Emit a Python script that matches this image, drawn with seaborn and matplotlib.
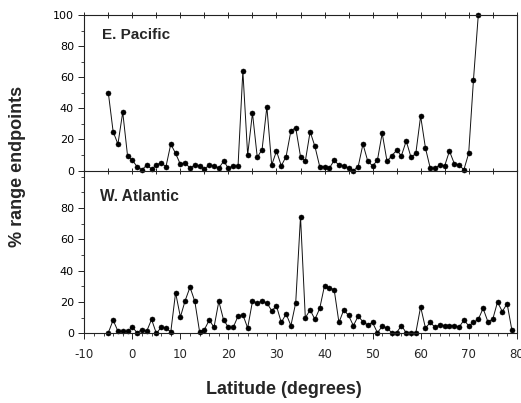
import matplotlib
matplotlib.use("Agg")
import matplotlib.pyplot as plt
from matplotlib.ticker import MultipleLocator
import numpy as np
import pandas as pd
import seaborn as sns

# latitude grid (1 degree steps) and % of range endpoints
lat_pacific = list(range(-5, 73))
pct_pacific = [50, 25, 17, 37.5, 9.5, 6.5, 2.5, 0.5, 3.5, 1,
               3.5, 5, 2.5, 17, 11, 4, 5, 1.5, 3.5, 3,
               1, 3.5, 3, 1.5, 6, 1.5, 3, 3, 64, 10,
               37, 8.5, 13.5, 41, 3.5, 12.5, 3, 9, 25.5, 27.5,
               9, 6, 25, 15.5, 2.5, 2.5, 1.5, 6.5, 3.5, 3,
               1.5, 0, 2.5, 17, 6, 3, 6.5, 24, 6, 9.5,
               13, 9.5, 19, 8.5, 11, 35, 14.5, 1.5, 1.5, 3.5,
               3, 12.5, 4.5, 3.5, 0.5, 11, 58.5, 100]

lat_atlantic = list(range(-5, 80))
pct_atlantic = [0.5, 8.5, 1.5, 1.5, 1.5, 4, 0.5, 2.5, 1.5, 9,
                0, 4, 3.5, 1, 26, 10.5, 21, 29.5, 20.5, 1,
                2.5, 8.5, 4, 20.5, 8.5, 4, 4, 11, 12, 3.5,
                20.5, 19.5, 20.5, 19.5, 14.5, 17.5, 7, 12.5, 5, 19.5,
                74.5, 10, 15, 9, 16, 30.5, 29, 28, 7, 15,
                11.5, 5, 11, 7.5, 5.5, 7, 0.5, 4.5, 3.5, 0.5,
                0.5, 5, 0.5, 0, 0.5, 17, 3.5, 7, 4, 5.5,
                5, 5, 5, 4, 8.5, 5, 7, 9, 16, 7.5,
                9, 20, 14, 19, 2]

panels = ["E. Pacific", "W. Atlantic"]

sns.set_style("ticks")
plt.rcParams["font.family"] = ["DejaVu Sans"]
plt.rcParams["axes.unicode_minus"] = False

fig = plt.figure(figsize=(5.21, 4.03), dpi=100)
ax1 = fig.add_axes([0.1618, 0.5769, 0.830, 0.3859])
ax2 = fig.add_axes([0.1618, 0.1725, 0.830, 0.3895])

df_p = pd.DataFrame({"lat": lat_pacific, "pct": pct_pacific})
df_a = pd.DataFrame({"lat": lat_atlantic, "pct": pct_atlantic})

for ax, df in [(ax1, df_p), (ax2, df_a)]:
    sns.lineplot(data=df, x="lat", y="pct", ax=ax, color="#111111", lw=0.7,
                 marker="o", markersize=3.6, markeredgecolor="black",
                 markerfacecolor="black", markeredgewidth=0.4, clip_on=False)
    ax.set_xlim(-10, 80)
    ax.set_ylim(0, 100)
    ax.set_xlabel("")
    ax.set_ylabel("")
    for s in ax.spines.values():
        s.set_linewidth(0.8)
        s.set_color("#222222")
    ax.yaxis.set_major_locator(MultipleLocator(20))
    ax.yaxis.set_minor_locator(MultipleLocator(10))
    ax.tick_params(axis="y", which="major", direction="out", length=4, width=0.7,
                   labelsize=8, pad=3.5, colors="#222222", labelcolor="black")
    ax.tick_params(axis="y", which="minor", direction="out", length=2.5, width=0.6)

# top panel: framed, ticks on both horizontal spines, no x labels
ax1.xaxis.set_major_locator(MultipleLocator(5))
ax1.tick_params(axis="x", which="major", direction="inout", length=5, width=0.7,
                top=True, bottom=True, labelbottom=False)
ax1.set_yticks([0, 20, 40, 60, 80, 100])

# bottom panel: open on top, side spines run up to the panel above
ax2.spines["top"].set_visible(False)
ax2.spines["left"].set_bounds(0, 104)
ax2.spines["right"].set_bounds(0, 104)
ax2.set_yticks([0, 20, 40, 60, 80])
ax2.xaxis.set_major_locator(MultipleLocator(10))
ax2.xaxis.set_minor_locator(MultipleLocator(2))
ax2.tick_params(axis="x", which="major", direction="out", length=4, width=0.7,
                labelsize=8.5, pad=6.5)
ax2.tick_params(axis="x", which="minor", direction="out", length=2.5, width=0.6)

ax1.text(0.040, 0.871, panels[0], transform=ax1.transAxes, ha="left", va="center",
         fontsize=11, fontweight="bold", family="Liberation Sans")
ax2.text(0.036, 0.874, panels[1], transform=ax2.transAxes, ha="left", va="center",
         fontsize=11.2, fontweight="bold", family="Liberation Sans")

fig.text(284 / 521, 1 - 390 / 403, "Latitude (degrees)", ha="center", va="center",
         fontsize=13, fontweight="bold", family="Liberation Sans")
fig.text(17.5 / 521, 1 - 166 / 403, "% range endpoints", ha="center", va="center",
         rotation=90, fontsize=13, fontweight="bold", family="Liberation Sans")

fig.savefig("out.png", dpi=100)
